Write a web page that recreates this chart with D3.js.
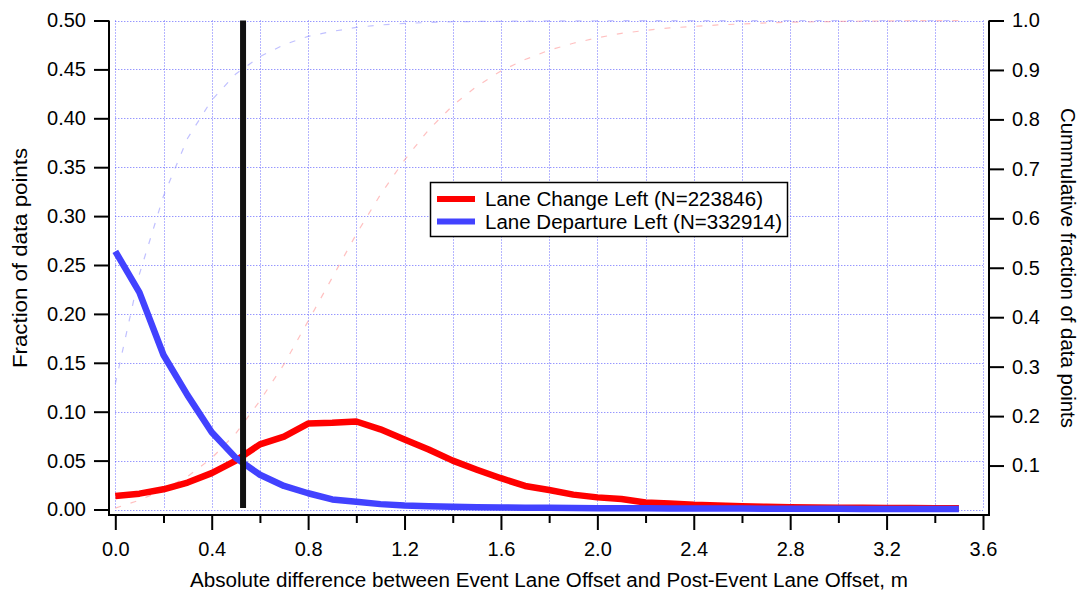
<!DOCTYPE html>
<html>
<head>
<meta charset="utf-8">
<script src="https://cdn.jsdelivr.net/npm/d3@7/dist/d3.min.js"></script>
<style>
  html, body { margin: 0; padding: 0; background: #fff; }
  svg { display: block; }
  text { font-family: "Liberation Sans", Arial, Helvetica, sans-serif; fill: #000; }
</style>
</head>
<body>
<svg id="chart" width="1083" height="597"></svg>
<script>
// Bin centres (m)
const offsets = [0.0,0.1,0.2,0.3,0.4,0.5,0.6,0.7,0.8,0.9,1.0,1.1,1.2,1.3,1.4,1.5,1.6,1.7,
                 1.8,1.9,2.0,2.1,2.2,2.3,2.4,2.5,2.6,2.7,2.8,2.9,3.0,3.1,3.2,3.3,3.4,3.5];

// Fraction of data points per bin
const changeLeft = [0.0138,0.0162,0.0207,0.0276,0.0372,0.0500,0.0666,0.0745,0.0879,0.0886,
                    0.0900,0.0820,0.0717,0.0614,0.0500,0.0407,0.0320,0.0241,0.0200,0.0152,
                    0.0124,0.0107,0.0072,0.0062,0.0048,0.0041,0.0034,0.0028,0.0024,0.0021,
                    0.0019,0.0017,0.0016,0.0015,0.0014,0.0013];
const departureLeft = [0.2640,0.2220,0.1580,0.1167,0.0790,0.0528,0.0355,0.0241,0.0166,0.0103,
                       0.0079,0.0055,0.0041,0.0034,0.0028,0.0024,0.0021,0.0019,0.0017,0.0016,
                       0.0014,0.0013,0.0012,0.0011,0.0010,0.0009,0.0009,0.0008,0.0008,0.0007,
                       0.0007,0.0006,0.0006,0.0006,0.0005,0.0005];

// Cumulative fraction of data points (right axis)
const changeLeftCum = [0.014,0.030,0.051,0.078,0.115,0.165,0.231,0.305,0.392,0.480,
                       0.568,0.648,0.718,0.779,0.828,0.867,0.898,0.921,0.940,0.954,
                       0.965,0.974,0.980,0.985,0.988,0.991,0.993,0.995,0.9965,0.9975,
                       0.998,0.9987,0.9992,0.9996,0.9998,1.000];
const departureLeftCum = [0.265,0.487,0.645,0.762,0.839,0.892,0.927,0.951,0.968,0.978,
                          0.986,0.991,0.994,0.996,0.9975,0.998,0.9985,0.9989,0.9992,0.9994,
                          0.9995,0.9996,0.9997,0.9998,0.9998,0.9999,0.9999,0.9999,1.000,1.000,
                          1.000,1.000,1.000,1.000,1.000,1.000];

// Threshold marker (m)
const thresholdOffset = 0.53;

// Tick values
const xTicks = [0.0,0.4,0.8,1.2,1.6,2.0,2.4,2.8,3.2,3.6];
const xMinorTicks = [0.2,0.6,1.0,1.4,1.8,2.2,2.6,3.0,3.4];
const yLeftTicks = [0.00,0.05,0.10,0.15,0.20,0.25,0.30,0.35,0.40,0.45,0.50];
const yRightTicks = [0.1,0.2,0.3,0.4,0.5,0.6,0.7,0.8,0.9,1.0];

const seriesNames = ["Lane Change Left (N=223846)", "Lane Departure Left (N=332914)"];
const seriesColors = ["#ff0000", "#4242ff"];
const cumColors = ["#ff8c8c", "#8c8cff"];

const svg = d3.select("#chart");

const axisLeftX = 109, axisRightX = 989, axisBottomY = 515, plotTop = 20.5;

const x = d3.scaleLinear().domain([0, 3.6]).range([115.3, 983]);
const yL = d3.scaleLinear().domain([0, 0.5]).range([509.5, plotTop]);
const yR = d3.scaleLinear().domain([0, 1]).range([axisBottomY, plotTop]);

// Grid
const grid = svg.append("g")
  .attr("stroke", "#5050ff").attr("stroke-width", 1)
  .attr("stroke-dasharray", "1,2").attr("stroke-opacity", 0.85);
grid.selectAll("line.v").data(xTicks.concat(xMinorTicks)).join("line")
  .attr("class", "v")
  .attr("x1", d => Math.round(x(d)) + 0.5).attr("x2", d => Math.round(x(d)) + 0.5)
  .attr("y1", yL(0.5)).attr("y2", yL(0));
grid.selectAll("line.h").data(yLeftTicks).join("line")
  .attr("class", "h")
  .attr("x1", x(0)).attr("x2", x(3.6))
  .attr("y1", d => Math.round(yL(d)) + 0.5).attr("y2", d => Math.round(yL(d)) + 0.5);

// Cumulative curves (faint dashed)
const cumLine = data => d3.line().x((d, i) => x(offsets[i])).y(d => yR(d))(data);
[changeLeftCum, departureLeftCum].forEach((data, k) => {
  svg.append("path")
    .attr("d", cumLine(data))
    .attr("fill", "none")
    .attr("stroke", cumColors[k])
    .attr("stroke-width", 1.2)
    .attr("stroke-opacity", 0.55)
    .attr("stroke-dasharray", "6,10");
});

// Fraction curves
const fracLine = data => d3.line().x((d, i) => x(offsets[i])).y(d => yL(d))(data);
[changeLeft, departureLeft].forEach((data, k) => {
  svg.append("path")
    .attr("d", fracLine(data))
    .attr("fill", "none")
    .attr("stroke", seriesColors[k])
    .attr("stroke-width", 6.5)
    .attr("stroke-linejoin", "round");
});

// Threshold line
svg.append("line")
  .attr("x1", x(thresholdOffset)).attr("x2", x(thresholdOffset))
  .attr("y1", plotTop).attr("y2", 508)
  .attr("stroke", "#111").attr("stroke-width", 6);

// Axes
const styleAxis = g => {
  g.select(".domain").remove();
  g.selectAll(".tick line").attr("stroke", "#000").attr("stroke-width", 2);
  g.selectAll(".tick text").style("font-size", "20px").attr("fill", "#000");
};

svg.append("g").attr("transform", `translate(${axisLeftX},0)`)
  .call(d3.axisLeft(yL).tickValues(yLeftTicks).tickSize(15).tickPadding(8)
    .tickFormat(d3.format(".2f")))
  .call(styleAxis);

svg.append("g").attr("transform", `translate(${axisRightX},0)`)
  .call(d3.axisRight(yR).tickValues(yRightTicks).tickSize(15).tickPadding(8)
    .tickFormat(d3.format(".1f")))
  .call(styleAxis);

svg.append("g").attr("transform", `translate(0,${axisBottomY})`)
  .call(d3.axisBottom(x).tickValues(xMinorTicks).tickSize(8).tickFormat(""))
  .call(styleAxis);
svg.append("g").attr("transform", `translate(0,${axisBottomY})`)
  .call(d3.axisBottom(x).tickValues(xTicks).tickSize(15).tickPadding(12)
    .tickFormat(d3.format(".1f")))
  .call(styleAxis);

// Axis frame
const frame = svg.append("g").attr("stroke", "#000").attr("stroke-width", 2).attr("fill", "none");
frame.append("path")
  .attr("d", `M${axisLeftX},${plotTop}V${axisBottomY}H${axisRightX}V${plotTop}`);

// Axis titles
svg.append("text")
  .attr("transform", "translate(27,258) rotate(-90)")
  .attr("text-anchor", "middle").style("font-size", "20px")
  .attr("textLength", 220).attr("lengthAdjust", "spacingAndGlyphs")
  .text("Fraction of data points");
svg.append("text")
  .attr("transform", "translate(1061,268) rotate(90)")
  .attr("text-anchor", "middle").style("font-size", "20px")
  .attr("textLength", 320).attr("lengthAdjust", "spacingAndGlyphs")
  .text("Cummulative fraction of data points");
svg.append("text")
  .attr("x", 549).attr("y", 587)
  .attr("text-anchor", "middle").style("font-size", "20px")
  .attr("textLength", 718).attr("lengthAdjust", "spacingAndGlyphs")
  .text("Absolute difference between Event Lane Offset and Post-Event Lane Offset, m");

// Legend
const legendWidths = [278, 297];
const legend = svg.append("g");
legend.append("rect")
  .attr("x", 430.5).attr("y", 182.5).attr("width", 357).attr("height", 54)
  .attr("fill", "#fff").attr("stroke", "#000").attr("stroke-width", 1.5);
seriesNames.forEach((name, k) => {
  const cy = 199 + k * 22.5;
  legend.append("line")
    .attr("x1", 437).attr("x2", 475).attr("y1", cy).attr("y2", cy)
    .attr("stroke", seriesColors[k]).attr("stroke-width", 6);
  legend.append("text")
    .attr("x", 485).attr("y", cy + 7).style("font-size", "20px")
    .attr("textLength", legendWidths[k]).attr("lengthAdjust", "spacingAndGlyphs")
    .text(name);
});
</script>
</body>
</html>
